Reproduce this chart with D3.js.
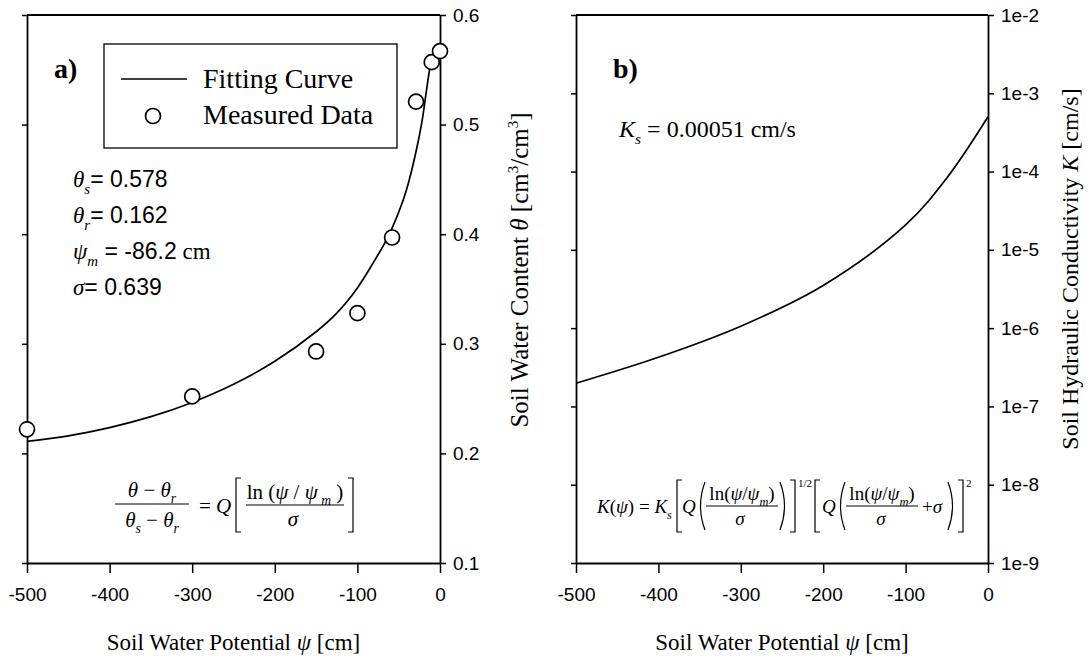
<!DOCTYPE html>
<html>
<head>
<meta charset="utf-8">
<script src="https://cdn.jsdelivr.net/npm/d3@7"></script>
<style>body{margin:0;background:#fff}</style>
</head>
<body>
<svg id="chart" width="1091" height="658"></svg>
<script>
// measured points, panel a
const measPsi = [-500, -300, -150, -100, -58, -29, -10, 0];
const measTheta = [0.222, 0.252, 0.293, 0.328, 0.397, 0.521, 0.557, 0.567];

// fitting curve
const fitPsi = [-500, -450, -400, -350, -300, -250, -200, -150, -125, -100, -80, -64, -50, -40, -30, -22, -16, -11, -6, -2];
const fitTheta = [0.211, 0.216, 0.2235, 0.2335, 0.2465, 0.263, 0.284, 0.311, 0.328, 0.351, 0.375, 0.396, 0.420, 0.442, 0.472, 0.502, 0.533, 0.556, 0.566, 0.571];

// conductivity curve
const condPsi = [-500, -400, -300, -200, -100, -50, 0];
const condK = [1.98e-7, 4.25e-7, 1.06e-6, 3.51e-6, 2.08e-5, 8.28e-5, 5.02e-4];

const psiTicks = [-500, -400, -300, -200, -100, 0];
const thetaTicks = [0.1, 0.2, 0.3, 0.4, 0.5, 0.6];
const kTicks = [1e-9, 1e-8, 1e-7, 1e-6, 1e-5, 1e-4, 1e-3, 1e-2];

const serif = "'Liberation Serif','Times New Roman',serif";
const sans = "'Liberation Sans',Arial,sans-serif";
const svg = d3.select("#chart");
const plotTop = 15, plotBottom = 563;

const xA = d3.scaleLinear().domain([-500, 0]).range([27, 440]);
const yA = d3.scaleLinear().domain([0.1, 0.6]).range([plotBottom, plotTop]);
const xB = d3.scaleLinear().domain([-500, 0]).range([576, 988]);
const yB = d3.scaleLog().domain([1e-9, 1e-2]).range([plotBottom, plotTop]);

function styleAxis(g) {
    g.select(".domain").attr("stroke", "#000").attr("stroke-width", 1.8);
    g.selectAll(".tick line").attr("stroke", "#000").attr("stroke-width", 1.5);
    g.selectAll("text").attr("font-family", sans).attr("font-size", 19).attr("fill", "#000");
}

// text with italic / sub / sup pieces
function rich(x, y, parts, size, anchor, transform) {
    const t = svg.append("text")
        .attr("x", x).attr("y", y)
        .attr("font-size", size)
        .attr("font-family", serif)
        .attr("text-anchor", anchor || "start")
        .attr("fill", "#000");
    if (transform) t.attr("transform", transform);
    let shift = 0;
    parts.forEach(([s, k]) => {
        const ts = t.append("tspan").text(s);
        let target = 0;
        if (k.includes("i")) ts.attr("font-style", "italic");
        if (k.includes("a")) ts.attr("font-family", sans);
        if (k.includes("b")) ts.attr("font-weight", "bold");
        if (k.includes("_")) { target = size * 0.3; ts.attr("font-size", size * 0.65); }
        if (k.includes("^")) { target = -size * 0.4; ts.attr("font-size", size * 0.6); }
        if (target !== shift) { ts.attr("dy", target - shift); shift = target; }
    });
    return t;
}

function path(d, w) {
    svg.append("path").attr("d", d).attr("fill", "none").attr("stroke", "#000").attr("stroke-width", w || 1.2);
}

function frame(x, y, labels, fmt) {
    const [x0, x1] = x.range();
    svg.append("g").attr("transform", `translate(0,${plotBottom})`)
        .call(d3.axisBottom(x).tickValues(psiTicks).tickSize(10).tickPadding(15).tickSizeOuter(0).tickFormat(d => String(d)))
        .call(styleAxis);
    svg.append("g").attr("transform", `translate(${x0},0)`)
        .call(d3.axisLeft(y).tickValues(labels).tickSize(5).tickSizeOuter(0).tickFormat(""))
        .call(styleAxis);
    svg.append("g").attr("transform", `translate(${x1},0)`)
        .call(d3.axisRight(y).tickValues(labels).tickSize(6).tickPadding(7).tickSizeOuter(0).tickFormat(fmt))
        .call(styleAxis);
    svg.append("line").attr("x1", x0).attr("x2", x1).attr("y1", plotTop).attr("y2", plotTop)
        .attr("stroke", "#000").attr("stroke-width", 1.8);
}

frame(xA, yA, thetaTicks, d3.format(".1f"));
frame(xB, yB, kTicks, d => "1e" + Math.round(Math.log10(d)));

// panel a curve + points
const lineA = d3.line().x((d, i) => xA(fitPsi[i])).y(d => yA(d)).curve(d3.curveCatmullRom.alpha(0.5));
svg.append("path").datum(fitTheta).attr("d", lineA)
    .attr("fill", "none").attr("stroke", "#000").attr("stroke-width", 1.7);
svg.selectAll("circle.meas").data(measTheta).join("circle")
    .attr("class", "meas")
    .attr("cx", (d, i) => xA(measPsi[i])).attr("cy", d => yA(d)).attr("r", 7.5)
    .attr("fill", "#fff").attr("stroke", "#000").attr("stroke-width", 1.7);

// panel b curve
const lineB = d3.line().x((d, i) => xB(condPsi[i])).y(d => yB(d)).curve(d3.curveCatmullRom.alpha(0.5));
svg.append("path").datum(condK).attr("d", lineB)
    .attr("fill", "none").attr("stroke", "#000").attr("stroke-width", 1.7);

// legend
svg.append("rect").attr("x", 104).attr("y", 44).attr("width", 293).attr("height", 104)
    .attr("fill", "#fff").attr("stroke", "#000").attr("stroke-width", 1.3);
svg.append("line").attr("x1", 121).attr("x2", 187).attr("y1", 79).attr("y2", 79)
    .attr("stroke", "#000").attr("stroke-width", 1.6);
svg.append("circle").attr("cx", 153).attr("cy", 116).attr("r", 7.5)
    .attr("fill", "#fff").attr("stroke", "#000").attr("stroke-width", 1.7);
rich(203, 88, [["Fitting Curve", "r"]], 28);
rich(203, 124, [["Measured Data", "r"]], 28);

// panel labels
rich(54, 78, [["a)", "b"]], 28);
rich(613, 78, [["b)", "b"]], 28);

// fitted parameters
rich(73, 187, [["θ", "i"], ["s", "i_"], ["= 0.578", "a"]], 23);
rich(73, 223, [["θ", "i"], ["r", "i_"], ["= 0.162", "a"]], 23);
rich(73, 259, [["ψ", "i"], ["m", "i_"], [" = -86.2", "a"], [" cm", "r"]], 23);
rich(73, 295, [["σ", "i"], ["= 0.639", "a"]], 23);
rich(619, 137, [["K", "i"], ["s", "i_"], [" = 0.00051 cm/s", "r"]], 24);

// equation, panel a
rich(152, 497, [["θ", "i"], [" − ", "r"], ["θ", "i"], ["r", "i_"]], 21, "middle");
path("M115,504H189");
rich(152, 527, [["θ", "i"], ["s", "i_"], [" − ", "r"], ["θ", "i"], ["r", "i_"]], 21, "middle");
rich(199, 513, [["= ", "r"], ["Q", "i"]], 21);
path("M241,478H236V532H241");
rich(295, 499, [["ln", "r"], [" (", "r"], ["ψ", "i"], [" / ", "r"], ["ψ", "i"], [" m", "i_"], [" )", "r"]], 21, "middle");
path("M246,505H344");
rich(293, 526, [["σ", "i"]], 21, "middle");
path("M348,478H353V532H348");

// equation, panel b
rich(597, 513, [["K", "i"], ["(", "r"], ["ψ", "i"], [")", "r"], [" = ", "r"], ["K", "i"], ["s", "i_"]], 19);
path("M682,480H677V532H682");
rich(682, 513, [["Q", "i"]], 19);
path("M705,482Q696,506 705,530");
rich(742, 500, [["ln(", "r"], ["ψ", "i"], ["/", "r"], ["ψ", "i"], ["m", "i_"], [")", "r"]], 19, "middle");
path("M706,506H778");
rich(740, 525, [["σ", "i"]], 19, "middle");
path("M780,482Q789,506 780,530");
path("M790,480H795V532H790");
rich(798, 487, [["1/2", "r"]], 11);
path("M820,480H815V532H820");
rich(822, 513, [["Q", "i"]], 19);
path("M845,482Q836,506 845,530");
rich(882, 500, [["ln(", "r"], ["ψ", "i"], ["/", "r"], ["ψ", "i"], ["m", "i_"], [")", "r"]], 19, "middle");
path("M846,506H918");
rich(881, 525, [["σ", "i"]], 19, "middle");
rich(922, 513, [["+", "r"], ["σ", "i"]], 19);
path("M948,482Q957,506 948,530");
path("M958,480H963V532H958");
rich(966, 487, [["2", "r"]], 11);

// axis titles
rich(233.5, 650, [["Soil Water Potential ", "r"], ["ψ", "i"], [" [cm]", "r"]], 23, "middle");
rich(782, 650, [["Soil Water Potential ", "r"], ["ψ", "i"], [" [cm]", "r"]], 23, "middle");
rich(0, 0, [["Soil Water Content  ", "r"], ["θ", "i"], [" [cm", "r"], ["3", "^"], ["/cm", "r"], ["3", "^"], ["]", "r"]], 25, "middle", "translate(528,270) rotate(-90)");
rich(0, 0, [["Soil Hydraulic Conductivity ", "r"], ["K", "i"], [" [cm/s]", "r"]], 24, "middle", "translate(1078,269) rotate(-90)");
</script>
</body>
</html>
